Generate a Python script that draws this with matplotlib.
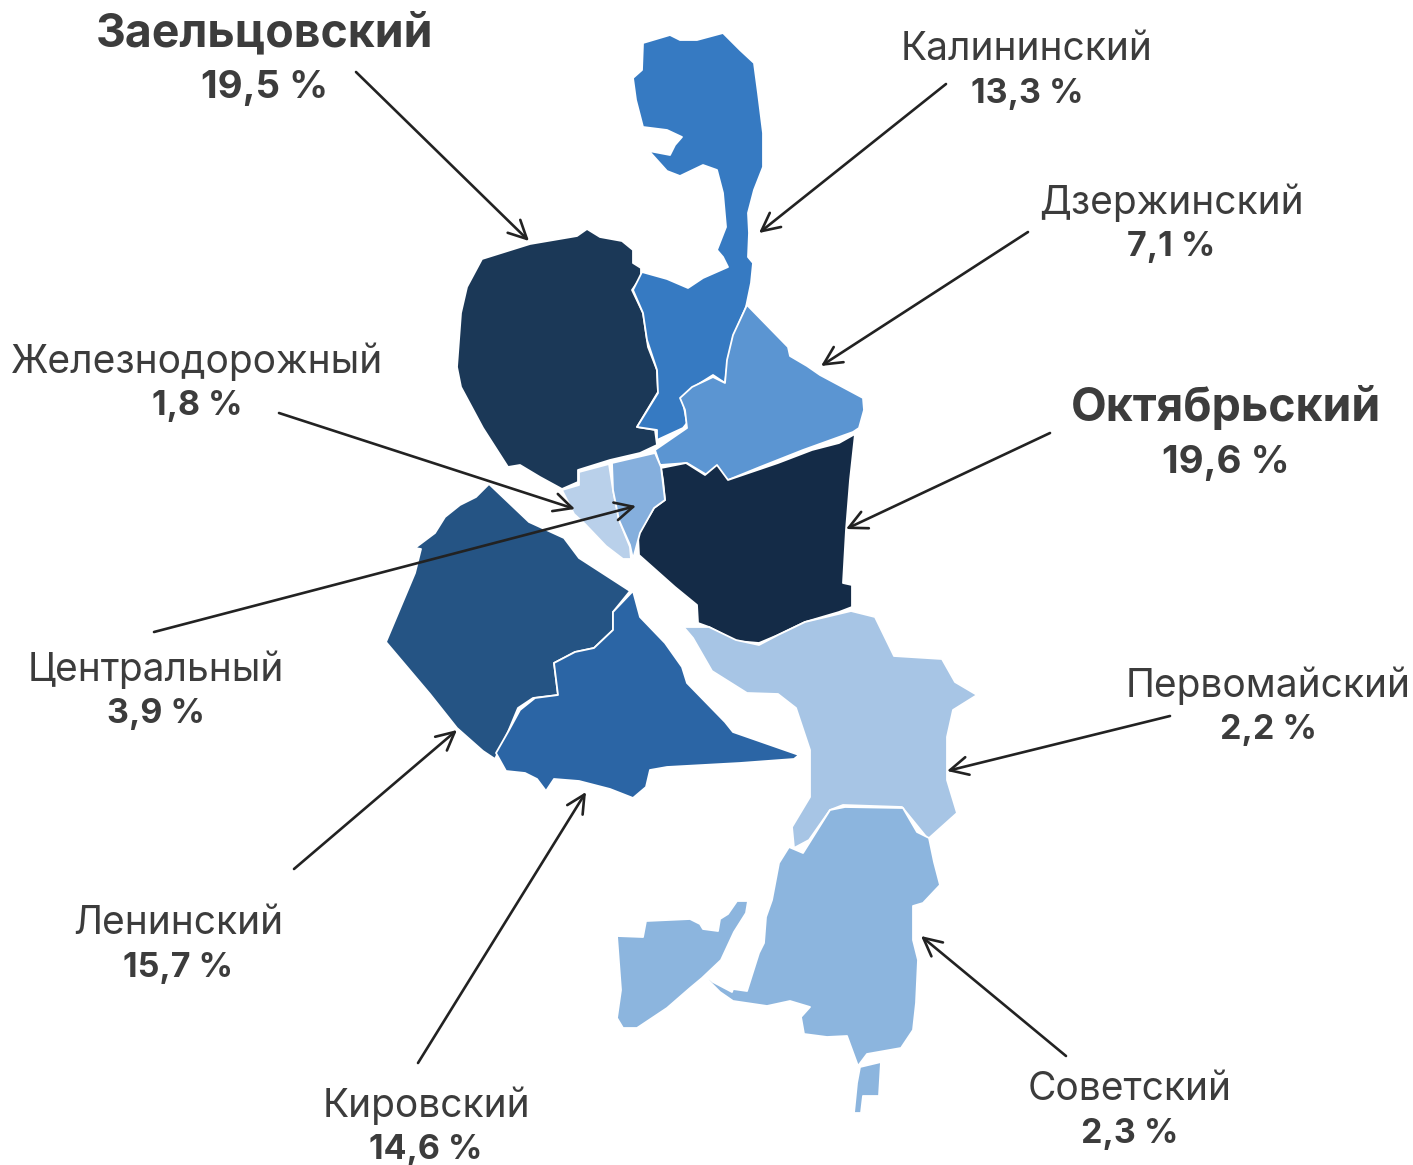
import matplotlib
matplotlib.use("Agg")
import matplotlib.pyplot as plt
from matplotlib.patches import Polygon

plt.rcParams['font.family'] = ['Inter', 'DejaVu Sans']

names = ['Заельцовский','Калининский','Дзержинский','Железнодорожный','Октябрьский','Центральный','Первомайский','Ленинский','Кировский','Советский']
shares = ['19,5 %','13,3 %','7,1 %','1,8 %','19,6 %','3,9 %','2,2 %','15,7 %','14,6 %','2,3 %']

kalininsky = [(643,43),(670,35),(680,40),(697,40),(723,33),(740,50),(754,63),(758,93),(763,133),(763,167),(754,190),(748,213),(749,233),(748,257),(753,263),(751,283),(746,307),(733,337),(727,367),(725,383),(713,375),(697,385),(682,397),(687,423),(683,428),(657,440),(657,430),(637,427),(658,393),(657,370),(647,340),(643,313),(633,290),(642,272),(667,279),(688,288),(703,278),(728,267),(723,257),(717,250),(726,227),(723,193),(717,170),(703,165),(680,176),(667,171),(649,151),(670,155),(675,145),(682,137),(667,130),(643,127),(636,100),(633,78),(642,70)]
zaeltsovsky = [(482,259),(530,244),(577,236),(587,229),(600,237),(622,241),(633,250),(633,263),(641,268),(641,277),(632,290),(643,313),(648,347),(657,370),(658,392),(637,427),(655,430),(657,445),(640,453),(610,460),(578,470),(578,482),(562,489),(540,477),(520,465),(508,467),(483,428),(461,387),(457,367),(461,313),(467,287)]
dzerzhinsky = [(747,305),(788,347),(790,356),(807,366),(820,375),(863,398),(864,410),(859,428),(853,432),(803,450),(760,467),(728,480),(715,467),(707,475),(687,463),(660,465),(655,450),(687,428),(685,410),(680,398),(692,387),(713,377),(725,383),(727,360),(733,335)]
oktyabrsky = [(855,434),(850,480),(846,530),(843,583),(852,585),(852,607),(839,612),(805,622),(778,635),(759,643),(736,641),(709,627),(698,623),(697,605),(675,587),(639,555),(638,535),(654,508),(665,500),(663,480),(661,468),(686,463),(705,475),(717,465),(728,480),(778,463),(812,450),(839,443)]
zheleznodorozhny = [(562,490),(579,485),(579,472),(609,464),(613,490),(619,520),(630,547),(631,559),(623,559),(606,546),(585,524),(574,514)]
centralny = [(612,463),(655,453),(661,467),(665,500),(654,508),(640,533),(633,559),(630,545),(619,520),(613,490)]
leninsky = [(489,484),(529,522),(564,538),(579,558),(630,591),(613,612),(613,630),(594,648),(575,652),(554,663),(558,695),(533,698),(518,708),(508,732),(495,759),(483,751),(457,728),(430,694),(386,642),(415,573),(421,549),(415,548),(435,533),(445,517),(460,505),(476,497)]
kirovsky = [(633,591),(640,617),(665,643),(682,667),(687,683),(725,722),(733,732),(799,755),(794,759),(740,763),(667,767),(650,770),(646,787),(633,798),(610,789),(579,781),(554,779),(546,791),(537,779),(525,773),(506,771),(496,753),(508,732),(520,710),(535,698),(558,695),(554,663),(575,652),(594,648),(613,630),(613,612)]
pervomaisky = [(676,618),(686,627),(709,627),(736,640),(759,645),(778,635),(805,622),(851,611),(875,617),(894,656),(942,659),(955,682),(977,695),(953,710),(947,737),(947,780),(957,813),(928,839),(902,807),(843,805),(830,810),(809,840),(794,848),(792,827),(810,797),(810,750),(796,708),(778,694),(747,693),(712,671),(693,638)]
sovetsky_main = [(845,807),(903,808),(917,832),(929,838),(934,862),(940,885),(923,903),(913,906),(913,940),(918,960),(916,1003),(913,1030),(901,1048),(867,1054),(858,1066),(847,1036),(827,1037),(804,1034),(801,1017),(810,1007),(790,1001),(767,1006),(733,1001),(720,992),(706,978),(704,974),(713,982),(732,992),(733,989),(747,991),(759,953),(764,943),(766,917),(772,900),(779,863),(789,847),(803,853),(830,810)]
sovetsky_west = [(617,936),(643,937),(646,921),(690,919),(700,924),(703,929),(718,931),(720,919),(728,914),(737,901),(748,901),(746,913),(734,932),(721,960),(702,978),(690,988),(667,1008),(637,1028),(623,1028),(617,1018),(621,990)]
sovetsky_south = [(860,1067),(881,1062),(879,1096),(863,1096),(861,1113),(854,1113),(857,1083)]

regions = [(zaeltsovsky,'#1b3857'),(kalininsky,'#367ac2'),(dzerzhinsky,'#5b95d2'),(oktyabrsky,'#142b47'),
           (zheleznodorozhny,'#b9d0ea'),(centralny,'#85afdd'),(leninsky,'#255484'),(kirovsky,'#2b65a5'),
           (pervomaisky,'#a7c5e5'),(sovetsky_main,'#8cb5de'),(sovetsky_west,'#8cb5de'),(sovetsky_south,'#8cb5de')]

label_xy = [(265,34),(1027,50),(1171,203),(197,362),(1226,409),(156,670),(1268,686),(178,924),(426,1106),(1130,1090)]
bold_flags = [True,False,False,False,True,False,False,False,False,False]
arrow_from = [(356,72),(946,84),(1028,232),(279,413),(1050,433),(154,632),(1170,716),(294,869),(418,1063),(1066,1056)]
arrow_to = [(529,241),(759,233),(821,366),(575,509),(636,506),(846,529),(947,771),(457,730),(586,792),(921,936)]
arrow_to[4], arrow_to[5] = arrow_to[5], arrow_to[4]

fig = plt.figure(figsize=(14.13,11.65), dpi=100)
ax = fig.add_axes([0,0,1,1])
ax.set_xlim(0,1413); ax.set_ylim(1165,0); ax.axis('off')

for pts,c in regions:
    ax.add_patch(Polygon(pts, closed=True, fc=c, ec='white', lw=1.3, joinstyle='round'))

tc = '#3c3c3c'
for n,s,(x,y),b,a,t in zip(names,shares,label_xy,bold_flags,arrow_from,arrow_to):
    if b:
        ax.text(x,y,n,ha='center',va='center',fontsize=33.4,fontweight='bold',color=tc)
        ax.text(x,y+54,s,ha='center',va='center',fontsize=27.7,fontweight='bold',color=tc)
    else:
        ax.text(x,y,n,ha='center',va='center',fontsize=28,color=tc)
        ax.text(x,y+44,s,ha='center',va='center',fontsize=24.5,fontweight='bold',color=tc)
    ax.annotate('',xy=t,xytext=a,arrowprops=dict(arrowstyle='->,head_length=1.3,head_width=0.65',color='#222222',lw=1.9,shrinkA=0,shrinkB=0))

fig.savefig('out.png',dpi=100)
